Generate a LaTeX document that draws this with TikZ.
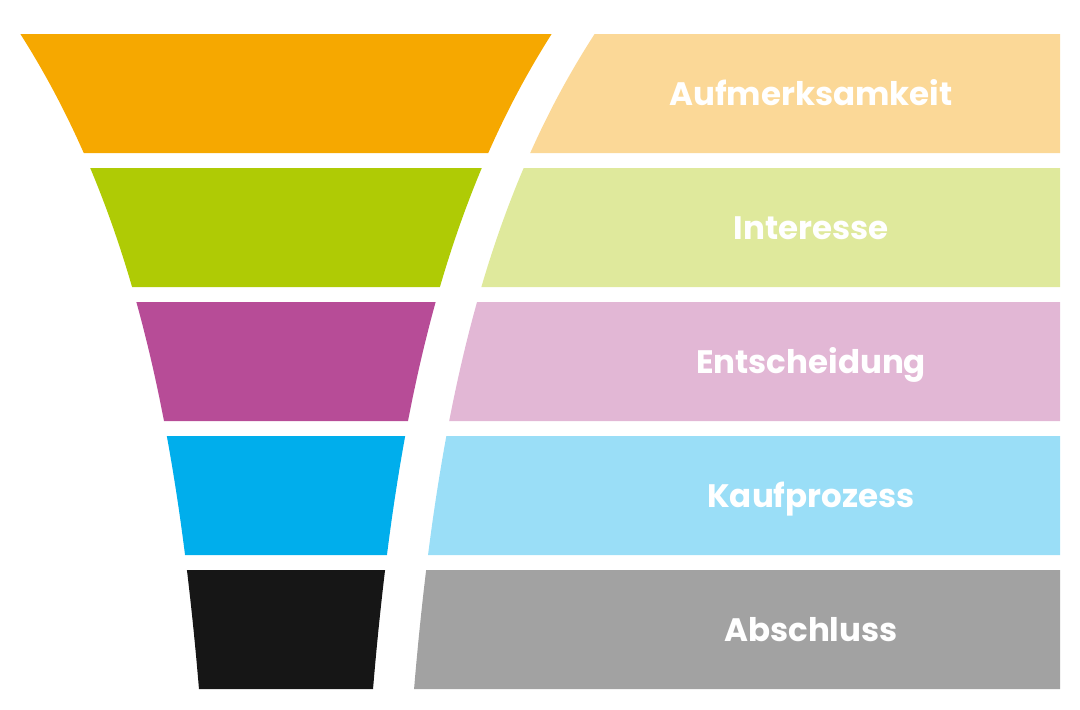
\documentclass[tikz,border=0pt]{standalone}
\usepackage{fontspec}
\setmainfont{Poppins}
\usetikzlibrary{positioning}

\definecolor{orangeD}{HTML}{F6A800}
\definecolor{orangeL}{HTML}{FBD897}
\definecolor{greenD}{HTML}{AFCB05}
\definecolor{greenL}{HTML}{DFE99C}
\definecolor{violetD}{HTML}{B74C97}
\definecolor{violetL}{HTML}{E2B7D5}
\definecolor{blueD}{HTML}{00AEEC}
\definecolor{blueL}{HTML}{9ADEF7}
\definecolor{blackD}{HTML}{161616}
\definecolor{greyL}{HTML}{A2A2A2}

\begin{document}
\begin{tikzpicture}[x=1pt,y=-1pt,
    declare function={hw(\q)=60+205.6*exp(-0.0031*(\q-34));},
    stagetext/.style={text=white,font=\bfseries\fontsize{32.5}{38}\selectfont,anchor=base}]

    \useasboundingbox (0,0) rectangle (1080,710);

    \foreach \t/\dark/\light/\name/\txt in {34/orangeD/orangeL/aufmerksamkeit/Aufmerksamkeit,
        168/greenD/greenL/interesse/Interesse, 302/violetD/violetL/entscheidung/Entscheidung,
        436/blueD/blueL/kaufprozess/Kaufprozess, 570/blackD/greyL/abschluss/Abschluss}{
        \pgfmathsetmacro{\b}{\t+119}
        % funnel part
        \fill[\dark] plot[domain=\t:\b,variable=\y,samples=25] ({286-hw(\y)},\y)
            -- plot[domain=\b:\t,variable=\y,samples=25] ({286+hw(\y)},\y) -- cycle;
        % label bar
        \fill[\light] plot[domain=\b:\t,variable=\y,samples=25] ({327+hw(\y)+2*exp(-0.006*(\y-34))},\y)
            -- (1060,\t) -- (1060,\b) -- cycle;
        \node[stagetext] (\name) at (811,\t+71) {\txt};
    }
\end{tikzpicture}
\end{document}
